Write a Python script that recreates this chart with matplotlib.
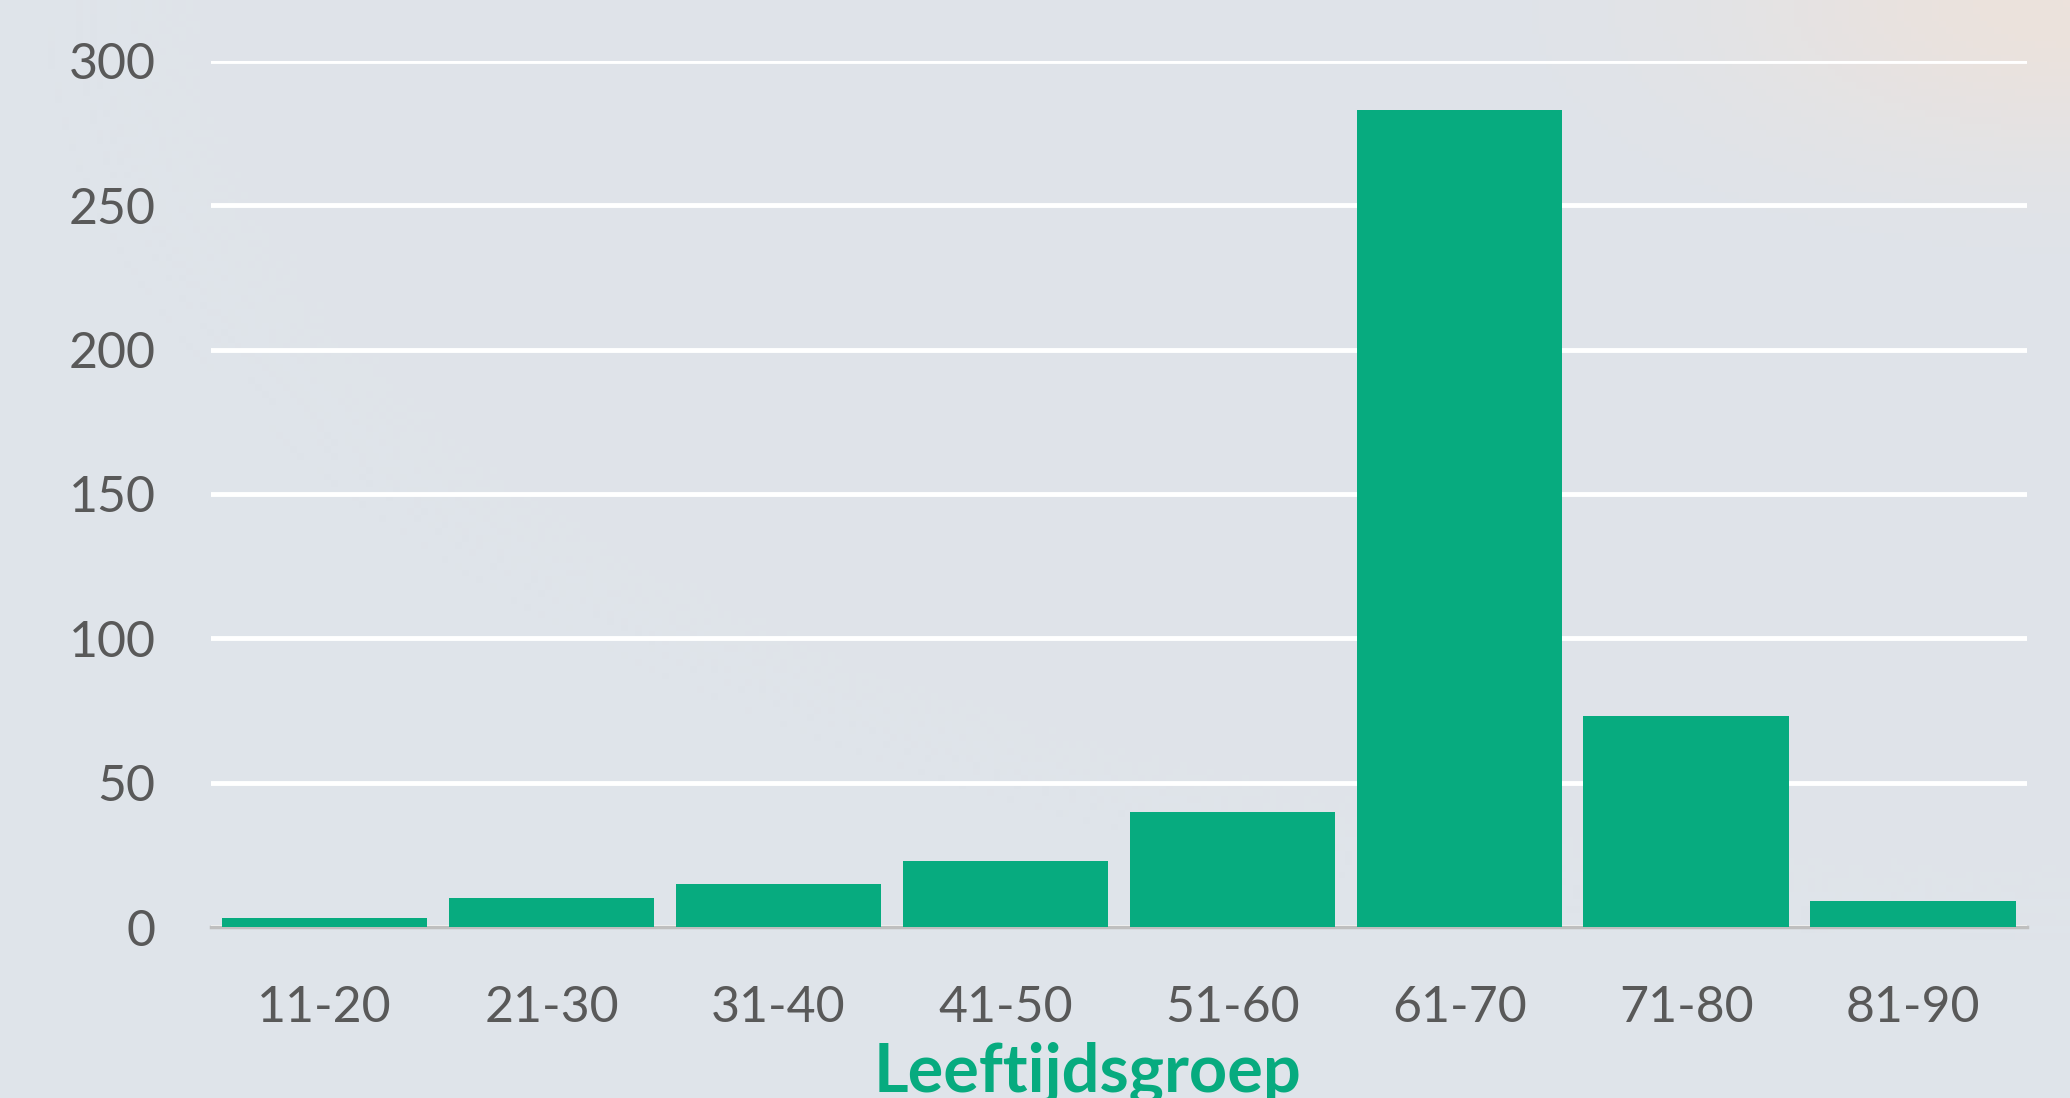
import numpy as np
import matplotlib.pyplot as plt

# age groups and counts
groups = ['11-20', '21-30', '31-40', '41-50', '51-60', '61-70', '71-80', '81-90']
counts = [3, 10, 15, 23, 40, 283, 73, 9]
yticks = [0, 50, 100, 150, 200, 250, 300]

bar_color = '#07AB7F'
text_color = '#595959'
bg_color = '#DFE4EA'

plt.rcParams['font.family'] = ['Lato', 'DejaVu Sans']

fig = plt.figure(figsize=(20.7, 10.98), dpi=100, facecolor=bg_color)

# soft peach glow in the top right corner of the background
bg = fig.add_axes([0, 0, 1, 1], zorder=-10)
gx, gy = np.meshgrid(np.linspace(0, 1, 300), np.linspace(0, 1, 160))
glow = np.exp(-(((gx - 1.0) / 0.16) ** 2 + ((gy - 1.0) / 0.14) ** 2))
base = np.array([0xDF, 0xE4, 0xEA]) / 255
peach = np.array([0xEC, 0xE2, 0xDC]) / 255
img = base[None, None, :] * (1 - glow[..., None]) + peach[None, None, :] * glow[..., None]
bg.imshow(img, origin='lower', extent=[0, 1, 0, 1], aspect='auto')
bg.axis('off')

ax = fig.add_axes([0.102, 0.1557, 0.877, 0.7888])
ax.set_facecolor('none')

x = np.arange(len(groups))
ax.bar(x, counts, width=0.905, color=bar_color, zorder=3)

ax.set_xlim(-0.5, len(groups) - 0.5)
ax.set_ylim(0, 300)
ax.set_yticks(yticks)
ax.set_xticks(x)
ax.set_xticklabels(groups)

ax.yaxis.grid(True, color='white', linewidth=3.5)
ax.set_axisbelow(True)
for side in ['top', 'right', 'left']:
    ax.spines[side].set_visible(False)
ax.spines['bottom'].set_color('#BFBFBF')
ax.spines['bottom'].set_linewidth(2.5)
ax.spines['bottom'].set_zorder(2)

ax.tick_params(axis='both', length=0, labelsize=36, colors=text_color)
ax.tick_params(axis='y', pad=40)
ax.tick_params(axis='x', pad=42)

ax.set_xlabel('Leeftijdsgroep', fontsize=48, fontweight='bold', color=bar_color)
ax.xaxis.set_label_coords(0.483, -0.132)

fig.savefig('out.png', dpi=100, facecolor=bg_color)
